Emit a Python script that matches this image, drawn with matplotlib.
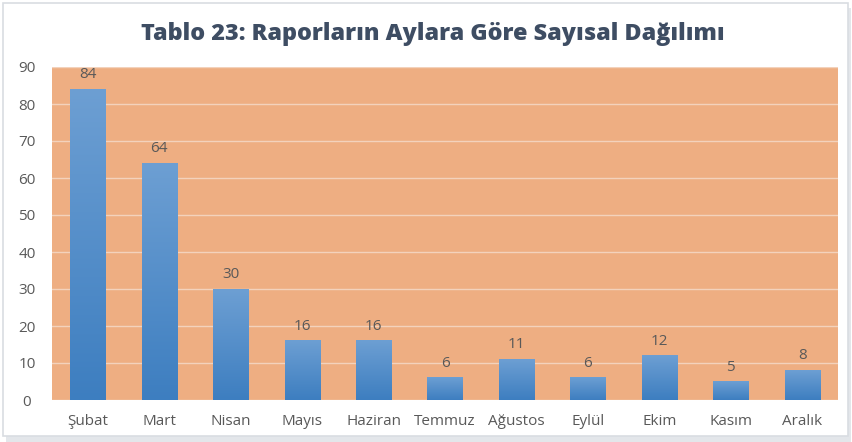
import matplotlib
matplotlib.use("Agg")
import matplotlib.pyplot as plt
import numpy as np
from matplotlib.patches import Rectangle
from matplotlib.colors import LinearSegmentedColormap

plt.rcParams['font.family'] = ['Open Sans', 'DejaVu Sans']

months = ["Şubat", "Mart", "Nisan", "Mayıs", "Haziran", "Temmuz", "Ağustos", "Eylül", "Ekim", "Kasım", "Aralık"]
counts = [84, 64, 30, 16, 16, 6, 11, 6, 12, 5, 8]
yticks = [0, 10, 20, 30, 40, 50, 60, 70, 80, 90]
title = "Tablo 23: Raporların Aylara Göre Sayısal Dağılımı"

fig = plt.figure(figsize=(8.53, 4.42), dpi=100)
fig.patch.set_facecolor('white')

# outer frame with subtle shadow
fig.add_artist(Rectangle((6/853, 0/442), 845/853, 434/442, transform=fig.transFigure,
                         facecolor='#E3E6EA', edgecolor='none', zorder=-2))
fig.add_artist(Rectangle((3/853, 6/442), 845/853, 433/442, transform=fig.transFigure,
                         facecolor='white', edgecolor='#D9DDE2', lw=1.2, zorder=-1))

ax = fig.add_axes([52/853, 42/442, 786/853, 333/442])
ax.set_zorder(2)
ax.set_facecolor('#EEAE82')
x = np.arange(len(months))
width = 0.49
bars = ax.bar(x, counts, width=width, color='none', zorder=3)

# vertical gradient for each bar
grad = np.linspace(0, 1, 256).reshape(-1, 1)
cmap = LinearSegmentedColormap.from_list('b', ['#3D7EC0', '#6D9FD3'])
for b in bars:
    x0, y0 = b.get_x(), b.get_y()
    w, h = b.get_width(), b.get_height()
    ax.imshow(grad, extent=(x0, x0 + w, y0, y0 + h), origin='lower', cmap=cmap,
              aspect='auto', zorder=3)

for xi, v in zip(x, counts):
    ax.annotate(str(v), (xi, v), xytext=(0, 5), textcoords='offset points',
                ha='center', va='bottom', fontsize=11, color='#595959', zorder=4)

ax.set_xlim(-0.5, len(months) - 0.5)
ax.set_ylim(0, 90)
ax.set_yticks(yticks)
ax.set_xticks(x)
ax.set_xticklabels(months)
ax.yaxis.grid(True, color='#F3D2BC', lw=1.0, zorder=1)
ax.set_axisbelow(True)
for s in ax.spines.values():
    s.set_visible(False)
ax.tick_params(axis='both', length=0, labelsize=11, colors='#595959')
ax.tick_params(axis='x', pad=10)
ax.tick_params(axis='y', pad=18)
for lab in ax.get_yticklabels():
    lab.set_horizontalalignment('center')

fig.text(0.507, 1 - 34/442, title, ha='center', va='center', fontsize=16.8,
         fontweight=800, color='#3E4D63', family=['Open Sans', 'DejaVu Sans'])

fig.savefig('out.png', dpi=100)
